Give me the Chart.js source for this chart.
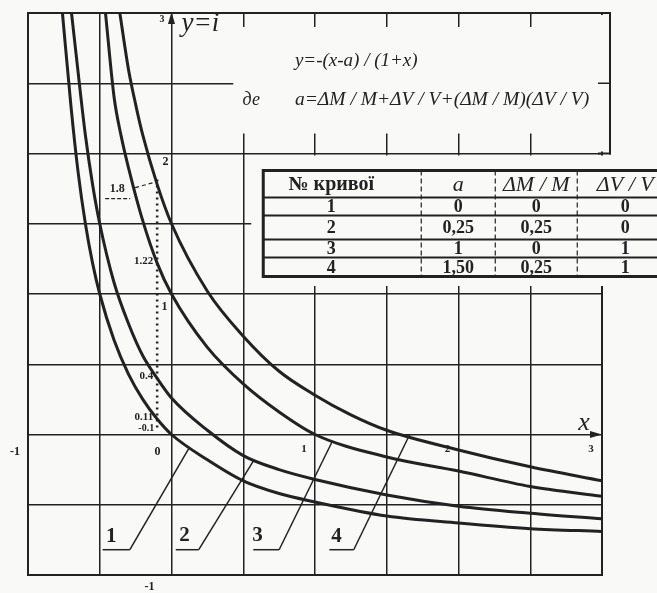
<!DOCTYPE html>
<html>
<head>
<meta charset="utf-8">
<script src="https://cdn.jsdelivr.net/npm/chart.js@4.4.1/dist/chart.umd.min.js"></script>
<style>
  html, body { margin: 0; padding: 0; background: #f9f9f8; }
  #wrap { position: relative; width: 657px; height: 593px; }
</style>
</head>
<body>
<div id="wrap"><canvas id="chart" width="657" height="593"></canvas></div>
<script>
// y = -(x-a)/(1+x), curves
const curve1X = [-0.76, -0.7, -0.65, -0.6, -0.55, -0.5, -0.4, -0.3, -0.2, -0.1, 0, 0.25, 0.5, 0.75, 1, 1.5, 2, 2.5, 3];
const curve1Y = [3.0, 2.33, 1.86, 1.5, 1.22, 1.0, 0.67, 0.43, 0.25, 0.11, 0, -0.18, -0.33, -0.42, -0.48, -0.58, -0.63, -0.67, -0.69];
const curve2X = [-0.7, -0.65, -0.6, -0.55, -0.5, -0.4, -0.3, -0.2, -0.1, 0, 0.25, 0.5, 0.75, 1, 1.5, 2, 2.5, 3];
const curve2Y = [3.03, 2.57, 2.13, 1.78, 1.5, 1.08, 0.79, 0.56, 0.4, 0.26, 0.03, -0.15, -0.25, -0.32, -0.43, -0.51, -0.56, -0.6];
const curve3X = [-0.46, -0.4, -0.35, -0.3, -0.2, -0.1, 0, 0.25, 0.5, 0.75, 1, 1.5, 2, 2.5, 3];
const curve3Y = [3.0, 2.4, 2.12, 1.9, 1.52, 1.22, 1.0, 0.62, 0.36, 0.16, 0, -0.16, -0.26, -0.37, -0.44];
const curve4X = [-0.36, -0.3, -0.25, -0.2, -0.1, 0, 0.25, 0.5, 0.75, 1, 1.25, 1.5, 2, 2.5, 3];
const curve4Y = [3.0, 2.6, 2.35, 2.13, 1.78, 1.5, 1.02, 0.7, 0.45, 0.28, 0.14, 0.03, -0.11, -0.23, -0.33];

// axis range and grid step
const xMin = -1, xMax = 3, yMin = -1, yMax = 3, gridStep = 0.5;
const xTickLabels = ['1', '2', '3'];
const yTickLabels = ['1', '2', '3'];

// dotted line at x = -0.1 and the values marked on it
const dotX = -0.1;
const dotMarks = [1.8, 1.22, 0.4, 0.11];
const dotMarkLabels = ['1.8', '1.22', '0.4', '0.11'];

// curve number labels with leader lines
const curveNames = ['1', '2', '3', '4'];
const nameX = [-0.42, 0.09, 0.6, 1.15];
const nameY = [-0.73, -0.72, -0.72, -0.73];
const leaderStartX = [-0.48, 0.03, 0.57, 1.10];
const leaderElbowX = [-0.29, 0.19, 0.75, 1.27];
const leaderY = -0.82;
const leaderTipX = [0.12, 0.57, 1.12, 1.66];
const leaderTipY = [-0.1, -0.19, -0.05, 0.0];

// table of parameters
const tableHeader = ['№ кривої', 'a', 'ΔM / M', 'ΔV / V'];
const tableRows = [
  ['1', '0', '0', '0'],
  ['2', '0,25', '0,25', '0'],
  ['3', '1', '0', '1'],
  ['4', '1,50', '0,25', '1']
];

const formulaLine1 = 'y=-(x-a) / (1+x)';
const formulaWord = 'де';
const formulaLine2 = 'a=ΔM / M+ΔV / V+(ΔM / M)(ΔV / V)';

const ink = '#222222';
const paper = '#f9f9f8';
const serif = "'Liberation Serif', 'DejaVu Serif', serif";

function pts(xs, ys) {
  return xs.map((x, i) => ({ x: x, y: ys[i] }));
}

function line(ctx, x1, y1, x2, y2, w, dash) {
  ctx.save();
  ctx.strokeStyle = ink;
  ctx.lineWidth = w;
  ctx.setLineDash(dash || []);
  ctx.beginPath();
  ctx.moveTo(x1, y1);
  ctx.lineTo(x2, y2);
  ctx.stroke();
  ctx.restore();
}

function text(ctx, str, x, y, font, align) {
  ctx.save();
  ctx.fillStyle = ink;
  ctx.font = font;
  ctx.textAlign = align || 'center';
  ctx.textBaseline = 'middle';
  ctx.fillText(str, x, y);
  ctx.restore();
}

function drawDecor(chart) {
  const ctx = chart.ctx;
  const W = chart.width;
  const X = v => chart.scales.x.getPixelForValue(v);
  const Y = v => chart.scales.y.getPixelForValue(v);

  // blank out the grid behind the formula box and the table
  ctx.fillStyle = paper;
  ctx.fillRect(X(0.5) - 10, Y(3) + 14, X(3) + 4 - (X(0.5) - 10), Y(2) - 20 - (Y(3) + 14));
  ctx.fillRect(X(3) - 3, Y(3) + 2, 7, Y(2) - Y(3) - 4);
  ctx.fillRect(X(0.5) + 8, Y(2) + 2, W, Y(1) - 8 - (Y(2) + 2));

  // formula box
  line(ctx, X(3) - 4, Y(3), X(3) + 9, Y(3), 2);
  line(ctx, X(3) - 4, Y(2), X(3) + 9, Y(2), 2);
  line(ctx, X(3) + 8, Y(3), X(3) + 8, Y(2) + 1, 2);
  line(ctx, X(3) - 4, Y(2.5), X(3) + 8, Y(2.5), 1.5);
  text(ctx, formulaLine1, X(0.86), Y(2.66), 'italic 19px ' + serif, 'left');
  text(ctx, formulaWord, X(0.5) + 8, Y(2.38), 'italic 18px ' + serif, 'center');
  text(ctx, formulaLine2, X(0.86), Y(2.38), 'italic 19.5px ' + serif, 'left');

  // table
  const tl = X(0.5) + 20, tt = Y(2) + 17;
  const rowH = [27, 18, 24, 18, 19];
  const colOff = [0, 158, 232, 314];
  const colMid = [68, 195, 273, 362];
  let yy = tt;
  const rowTops = rowH.map(h => { const t = yy; yy += h; return t; });
  const tb = yy;
  for (let i = 1; i < rowH.length; i++) {
    line(ctx, tl, rowTops[i], W, rowTops[i], i === 1 ? 2.2 : 1.8);
  }
  for (let c = 1; c < colOff.length; c++) {
    line(ctx, tl + colOff[c], tt, tl + colOff[c], tb, 1.2, [5, 3]);
  }
  ctx.save();
  ctx.strokeStyle = ink;
  ctx.lineWidth = 3;
  ctx.strokeRect(tl, tt, W + 10 - tl, tb - tt);
  ctx.restore();
  tableHeader.forEach((h, c) => {
    const f = c === 0 ? 'bold 20px ' + serif : 'italic 22px ' + serif;
    text(ctx, h, tl + colMid[c], tt + rowH[0] / 2 + 1, f);
  });
  tableRows.forEach((row, r) => {
    row.forEach((v, c) => {
      text(ctx, v, tl + colMid[c], rowTops[r + 1] + rowH[r + 1] / 2 + 1, 'bold 18px ' + serif);
    });
  });

  // axis arrows
  ctx.fillStyle = ink;
  ctx.beginPath();
  ctx.moveTo(X(0), Y(3) - 1);
  ctx.lineTo(X(0) - 3.5, Y(3) + 11);
  ctx.lineTo(X(0) + 3.5, Y(3) + 11);
  ctx.closePath();
  ctx.fill();
  ctx.beginPath();
  ctx.moveTo(X(3), Y(0));
  ctx.lineTo(X(3) - 12, Y(0) - 3.5);
  ctx.lineTo(X(3) - 12, Y(0) + 3.5);
  ctx.closePath();
  ctx.fill();

  // axis names and numbers
  text(ctx, 'y=i', X(0) + 10, Y(3) + 11, 'italic 27px ' + serif, 'left');
  text(ctx, 'x', X(3) - 18, Y(0) - 11, 'italic 26px ' + serif, 'center');
  text(ctx, yTickLabels[2], X(0) - 7, Y(3) + 6, 'bold 10px ' + serif, 'right');
  text(ctx, yTickLabels[1], X(0) - 3, Y(2) + 8, 'bold 12px ' + serif, 'right');
  text(ctx, yTickLabels[0], X(0) - 4, Y(1) + 13, 'bold 12px ' + serif, 'right');
  text(ctx, '0', X(0) - 14, Y(0) + 17, 'bold 12px ' + serif, 'center');
  text(ctx, '-1', X(-1) - 13, Y(0) + 17, 'bold 12px ' + serif, 'center');
  text(ctx, '-1', X(0) - 22, Y(-1) + 12, 'bold 12px ' + serif, 'center');
  xTickLabels.forEach((t, i) => {
    text(ctx, t, X(i + 1) - 11, Y(0) + 15, 'bold 11px ' + serif, 'center');
  });

  // dotted line and marked values
  line(ctx, X(dotX), Y(dotMarks[0]) - 2, X(dotX), Y(0) - 3, 2.5, [2, 4]);
  dotMarks.forEach((m, i) => {
    if (i === 0) return;
    text(ctx, dotMarkLabels[i], X(dotX) - 4, Y(m) - 2, 'bold 11px ' + serif, 'right');
  });
  text(ctx, '-0.1', X(dotX) - 3, Y(0) - 6, 'bold 10px ' + serif, 'right');
  const lx = X(dotX) - 40;
  text(ctx, dotMarkLabels[0], lx, Y(dotMarks[0]) + 7, 'bold 12px ' + serif, 'center');
  line(ctx, lx - 12, Y(dotMarks[0]) + 17, lx + 13, Y(dotMarks[0]) + 17, 1.2, [4, 2]);
  line(ctx, lx + 18, Y(dotMarks[0]) + 6, X(dotX), Y(dotMarks[0]), 1.2, [4, 3]);

  // curve numbers
  curveNames.forEach((n, i) => {
    text(ctx, n, X(nameX[i]), Y(nameY[i]), 'bold 21px ' + serif, 'center');
    line(ctx, X(leaderStartX[i]), Y(leaderY), X(leaderElbowX[i]), Y(leaderY), 1.5);
    line(ctx, X(leaderElbowX[i]), Y(leaderY), X(leaderTipX[i]), Y(leaderTipY[i]), 1.5);
  });
}

const paperPlugin = {
  id: 'paper',
  beforeDraw(chart) {
    const ctx = chart.ctx;
    ctx.save();
    ctx.fillStyle = paper;
    ctx.fillRect(0, 0, chart.width, chart.height);
    ctx.restore();
  },
  afterDraw(chart) {
    drawDecor(chart);
  }
};

const curveStyle = {
  showLine: true,
  borderColor: ink,
  borderWidth: 3,
  pointRadius: 0,
  cubicInterpolationMode: 'monotone',
  fill: false
};

const frameWidth = c => (c.tick && (c.tick.value === xMin || c.tick.value === xMax) ? 2 : 1.5);

new Chart(document.getElementById('chart'), {
  type: 'scatter',
  data: {
    datasets: [
      Object.assign({ label: '1', data: pts(curve1X, curve1Y) }, curveStyle),
      Object.assign({ label: '2', data: pts(curve2X, curve2Y) }, curveStyle),
      Object.assign({ label: '3', data: pts(curve3X, curve3Y) }, curveStyle),
      Object.assign({ label: '4', data: pts(curve4X, curve4Y) }, curveStyle)
    ]
  },
  options: {
    responsive: false,
    animation: false,
    layout: { padding: { left: 28, top: 13, right: 55, bottom: 18 } },
    plugins: {
      legend: { display: false },
      tooltip: { enabled: false }
    },
    scales: {
      x: {
        type: 'linear',
        min: xMin,
        max: xMax,
        ticks: { display: false, stepSize: gridStep },
        grid: { color: ink, lineWidth: frameWidth, drawTicks: false },
        border: { display: true, color: ink, width: 2 }
      },
      y: {
        type: 'linear',
        min: yMin,
        max: yMax,
        ticks: { display: false, stepSize: gridStep },
        grid: { color: ink, lineWidth: frameWidth, drawTicks: false },
        border: { display: true, color: ink, width: 2 }
      }
    }
  },
  plugins: [paperPlugin]
});
</script>
</body>
</html>
